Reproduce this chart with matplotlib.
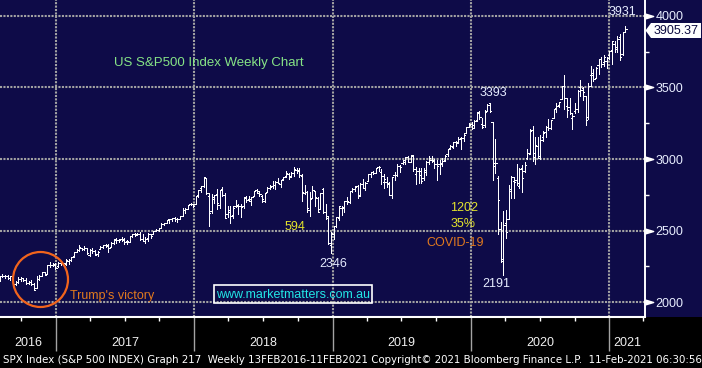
import numpy as np
import pandas as pd
import matplotlib
matplotlib.use('Agg')
import matplotlib.pyplot as plt
import matplotlib.dates as mdates
from matplotlib.patches import Ellipse, Polygon, Rectangle
from matplotlib.transforms import blended_transform_factory, ScaledTranslation

# weekly SPX bars, week ending Friday, first week ending 2016-08-05
first_week = '2016-08-05'

opens = [
    # 2016
    2173, 2183, 2184, 2183, 2170, 2180, 2125, 2140, 2163, 2168, 2154, 2132, 2142, 2129, 2100, 2165,
    2186, 2210, 2200, 2258, 2258, 2263,
    # 2017
    2251, 2274, 2272, 2268, 2291, 2295, 2321, 2354, 2366, 2381, 2372, 2379, 2329, 2363, 2357, 2335,
    2374, 2388, 2397, 2403, 2387, 2415, 2437, 2432, 2442, 2443, 2431, 2424, 2460, 2473, 2475, 2477,
    2443, 2425, 2447, 2474, 2473, 2500, 2503, 2521, 2548, 2555, 2578, 2583, 2588, 2580, 2583, 2603,
    2646, 2653, 2685, 2683,
    # 2018
    2684, 2746, 2798, 2809, 2867, 2741, 2636, 2723, 2757, 2681, 2791, 2752, 2619, 2633, 2611, 2670,
    2680, 2670, 2675, 2735, 2718, 2705, 2742, 2781, 2766, 2742, 2705, 2769, 2796, 2810, 2820, 2840,
    2822, 2858, 2884, 2897, 2881, 2903, 2926, 2923, 2882, 2764, 2773, 2641, 2727, 2775, 2731, 2650,
    2790, 2630, 2590, 2401,
    # 2019
    2476, 2531, 2586, 2657, 2659, 2709, 2703, 2778, 2792, 2812, 2750, 2823, 2796, 2849, 2893, 2909,
    2905, 2941, 2909, 2840, 2841, 2830, 2751, 2886, 2887, 2951, 2971, 2980, 3015, 2979, 3020, 2898,
    2914, 2913, 2866, 2909, 2980, 2996, 2984, 2968, 2962, 2965, 2996, 3034, 3079, 3087, 3118, 3118,
    3144, 3146, 3183, 3225,
    # 2020
    3247, 3218, 3273, 3323, 3247, 3236, 3335, 3389, 3258, 2974, 2864, 2509, 2290, 2555, 2578, 2776,
    2846, 2854, 2815, 2939, 2914, 3004, 3038, 3199, 3014, 3094, 3018, 3155, 3190, 3224, 3219, 3288,
    3357, 3380, 3419, 3508, 3370, 3363, 3285, 3338, 3350, 3500, 3494, 3441, 3296, 3584, 3600, 3566,
    3654, 3699, 3675, 3684, 3723,
    # 2021
    3764, 3803, 3781, 3855, 3731, 3886,
]
highs = [
    2183, 2194, 2189, 2193, 2185, 2188, 2150, 2175, 2176, 2170, 2169, 2147, 2154, 2132, 2182, 2189,
    2214, 2214, 2260, 2278, 2274, 2273,
    2283, 2279, 2276, 2301, 2300, 2319, 2352, 2369, 2401, 2382, 2390, 2382, 2370, 2379, 2366, 2361,
    2392, 2400, 2404, 2406, 2418, 2441, 2446, 2443, 2454, 2451, 2435, 2463, 2477, 2484, 2480, 2491,
    2475, 2454, 2480, 2474, 2500, 2509, 2520, 2553, 2556, 2576, 2582, 2589, 2598, 2588, 2605, 2658,
    2655, 2679, 2695, 2685,
    2744, 2787, 2811, 2873, 2870, 2764, 2755, 2748, 2790, 2787, 2802, 2762, 2675, 2672, 2675, 2717,
    2683, 2683, 2733, 2743, 2743, 2737, 2779, 2791, 2774, 2748, 2764, 2804, 2816, 2848, 2848, 2864,
    2855, 2877, 2916, 2900, 2906, 2941, 2940, 2940, 2894, 2817, 2779, 2767, 2815, 2775, 2735, 2761,
    2800, 2685, 2601, 2488,
    2532, 2598, 2675, 2672, 2709, 2738, 2776, 2795, 2814, 2817, 2830, 2860, 2836, 2894, 2910, 2916,
    2940, 2954, 2932, 2892, 2876, 2841, 2876, 2911, 2964, 2959, 2996, 3014, 3018, 3028, 3028, 2944,
    2940, 2939, 2940, 2985, 3021, 3022, 3002, 2993, 2993, 3008, 3027, 3067, 3098, 3121, 3127, 3155,
    3151, 3183, 3226, 3248,
    3258, 3275, 3330, 3338, 3285, 3342, 3385, 3394, 3260, 3137, 2882, 2563, 2637, 2641, 2818, 2880,
    2871, 2965, 2935, 2955, 2980, 3069, 3211, 3233, 3155, 3156, 3166, 3198, 3233, 3280, 3272, 3352,
    3388, 3399, 3509, 3588, 3425, 3429, 3320, 3394, 3482, 3550, 3503, 3441, 3529, 3646, 3628, 3644,
    3700, 3712, 3726, 3711, 3756,
    3827, 3823, 3860, 3871, 3887, 3931,
]
lows = [
    2148, 2178, 2168, 2160, 2158, 2128, 2120, 2133, 2145, 2145, 2128, 2125, 2122, 2084, 2100, 2156,
    2186, 2187, 2199, 2248, 2253, 2233,
    2245, 2258, 2259, 2262, 2267, 2289, 2319, 2353, 2358, 2364, 2363, 2337, 2322, 2344, 2328, 2323,
    2372, 2378, 2388, 2353, 2385, 2405, 2415, 2419, 2430, 2406, 2408, 2420, 2456, 2459, 2467, 2437,
    2425, 2417, 2428, 2446, 2473, 2496, 2495, 2521, 2542, 2551, 2552, 2566, 2567, 2558, 2578, 2602,
    2624, 2649, 2677, 2667,
    2683, 2738, 2768, 2808, 2758, 2533, 2626, 2695, 2648, 2658, 2742, 2586, 2594, 2553, 2586, 2665,
    2613, 2594, 2655, 2702, 2708, 2676, 2742, 2765, 2744, 2698, 2698, 2767, 2790, 2800, 2792, 2832,
    2803, 2853, 2877, 2863, 2874, 2882, 2904, 2874, 2710, 2756, 2628, 2604, 2727, 2671, 2631, 2649,
    2621, 2584, 2409, 2347,
    2443, 2525, 2571, 2612, 2630, 2687, 2690, 2770, 2775, 2728, 2740, 2799, 2786, 2849, 2873, 2898,
    2901, 2918, 2826, 2801, 2805, 2750, 2728, 2855, 2884, 2912, 2964, 2966, 2976, 2977, 2914, 2823,
    2834, 2835, 2853, 2891, 2964, 2979, 2939, 2856, 2892, 2952, 2988, 3024, 3070, 3078, 3091, 3113,
    3070, 3124, 3183, 3222,
    3212, 3215, 3263, 3279, 3214, 3223, 3333, 3328, 2855, 2901, 2478, 2281, 2192, 2447, 2578, 2729,
    2728, 2817, 2798, 2767, 2909, 2999, 3038, 2984, 2966, 3004, 3000, 3128, 3153, 3201, 3210, 3284,
    3329, 3361, 3419, 3350, 3293, 3313, 3209, 3324, 3330, 3440, 3409, 3234, 3279, 3511, 3542, 3566,
    3594, 3640, 3648, 3636, 3697,
    3663, 3750, 3749, 3694, 3725, 3884,
]
closes = [
    2183, 2184, 2184, 2169, 2180, 2128, 2139, 2165, 2168, 2154, 2133, 2141, 2126, 2085, 2164, 2182,
    2213, 2192, 2260, 2258, 2264, 2239,
    2277, 2275, 2271, 2295, 2297, 2316, 2351, 2367, 2383, 2373, 2378, 2344, 2363, 2356, 2329, 2349,
    2384, 2399, 2391, 2382, 2416, 2439, 2432, 2433, 2438, 2423, 2425, 2459, 2473, 2472, 2477, 2441,
    2426, 2443, 2477, 2461, 2500, 2502, 2519, 2549, 2553, 2575, 2581, 2588, 2582, 2579, 2602, 2642,
    2652, 2676, 2683, 2674,
    2743, 2786, 2810, 2873, 2762, 2620, 2732, 2747, 2691, 2787, 2752, 2588, 2641, 2604, 2656, 2670,
    2670, 2663, 2728, 2713, 2721, 2735, 2779, 2780, 2755, 2718, 2760, 2801, 2802, 2819, 2840, 2833,
    2850, 2875, 2902, 2872, 2905, 2930, 2914, 2886, 2767, 2768, 2659, 2723, 2781, 2736, 2633, 2760,
    2633, 2600, 2417, 2486,
    2532, 2596, 2671, 2665, 2707, 2708, 2776, 2793, 2804, 2743, 2822, 2801, 2834, 2893, 2907, 2905,
    2940, 2946, 2881, 2860, 2826, 2752, 2873, 2887, 2950, 2942, 2990, 3014, 2977, 3026, 2932, 2919,
    2889, 2847, 2926, 2979, 3007, 2992, 2962, 2952, 2970, 2986, 3023, 3067, 3093, 3120, 3110, 3141,
    3146, 3169, 3221, 3240,
    3235, 3265, 3330, 3295, 3226, 3328, 3380, 3338, 2954, 2972, 2711, 2305, 2541, 2489, 2790, 2875,
    2837, 2831, 2930, 2864, 2955, 3044, 3194, 3041, 3098, 3009, 3130, 3185, 3225, 3216, 3271, 3351,
    3373, 3397, 3508, 3427, 3341, 3319, 3298, 3348, 3477, 3484, 3465, 3270, 3509, 3585, 3558, 3638,
    3699, 3663, 3709, 3703, 3756,
    3825, 3768, 3841, 3714, 3887, 3905,
]

last_price = '3905.37'
price_ticks = [2000, 2500, 3000, 3500, 4000]
minor_price_ticks = [2250, 2750, 3250, 3750]
years = [2016, 2017, 2018, 2019, 2020, 2021]
footer = ('SPX Index (S&P 500 INDEX) Graph 217  Weekly 13FEB2016-11FEB2021 '
          'Copyright\u00a9 2021 Bloomberg Finance L.P.  11-Feb-2021 06:30:56')

NAVY = '#0e0b48'
GRID = '#a3a3a3'
W, H = 702, 368

plt.rcParams['font.family'] = ['Liberation Sans', 'DejaVu Sans']


def fx(px):
    return px / W


def fy(py):
    return 1 - py / H


fig = plt.figure(figsize=(W / 100, H / 100), dpi=100, facecolor='black')
fig.add_artist(Rectangle((fx(645), fy(317)), 57 / W, 317 / H, transform=fig.transFigure,
                         facecolor=NAVY, edgecolor='none', zorder=-5))
ax = fig.add_axes([0, 51 / H, 645 / W, 317 / H])
ax.set_facecolor(NAVY)

weeks = pd.date_range(first_week, periods=len(closes), freq='W-FRI')
x = mdates.date2num(weeks)
o = np.array(opens)
hi = np.array(highs)
lo = np.array(lows)
c = np.array(closes)

# OHLC bars: high-low stem, open tick left, close tick right
bar_kw = dict(color='white', lw=0.72, zorder=3, antialiased=False)
ax.vlines(x, lo, hi, **bar_kw)
ax.hlines(o, x - 3.5, x, **bar_kw)
ax.hlines(c, x, x + 3.5, **bar_kw)

# axes, ticks and grid
for s in ['top', 'left']:
    ax.spines[s].set_visible(False)
ax.spines['bottom'].set_color('white')
ax.spines['bottom'].set_linewidth(1.5)
ax.spines['right'].set_color('white')
ax.spines['right'].set_linewidth(1.4)

year_starts = [mdates.date2num(pd.Timestamp(f'{y}-01-01')) for y in years[1:]]
ax.set_xticks(year_starts)
quarters = pd.date_range('2016-10-01', '2021-04-01', freq='QS')
ax.set_xticks(mdates.date2num(quarters), minor=True)
ax.tick_params(axis='x', which='major', length=24.5, width=1, color=GRID, labelbottom=False)
ax.tick_params(axis='x', which='minor', length=3, width=1, color='white', labelbottom=False)

ax.yaxis.tick_right()
ax.set_yticks(price_ticks)
ax.set_yticks(minor_price_ticks, minor=True)
ax.tick_params(axis='y', which='major', length=0, pad=7.5, labelsize=9, labelcolor='#e8eeff')
ax.tick_params(axis='y', which='minor', length=3, width=1, color='white')

ax.set_xlim(mdates.date2num(pd.Timestamp('2016-08-06')), mdates.date2num(pd.Timestamp('2021-04-05')))
ax.set_ylim(1897, 4110)

ax.grid(True, which='major', color=GRID, linestyle=(0, (1, 0.65)), linewidth=1.5, zorder=1)
ax.set_axisbelow(True)

# arrow heads in front of the price labels
tri = [(-1, -0.6), (1, 0), (-1, 0.6)]
tr = blended_transform_factory(ax.transAxes, ax.transData) + ScaledTranslation(4 / 100, 0, fig.dpi_scale_trans)
ax.plot([1.0] * len(price_ticks), price_ticks, ls='none', marker=tri, ms=6, color='white',
        transform=tr, clip_on=False, zorder=5)

# year labels centred on the visible part of each year
x0, x1 = ax.get_xlim()
ytr = blended_transform_factory(ax.transData, ax.transAxes)
for y in years:
    a = max(mdates.date2num(pd.Timestamp(f'{y}-01-01')), x0)
    b = min(mdates.date2num(pd.Timestamp(f'{y + 1}-01-01')), x1)
    ax.text((a + b) / 2, -26 / 317, str(y), transform=ytr, ha='center', va='center',
            fontsize=9, color='#f0f0f0', clip_on=False)

fig.text(fx(3), fy(360), footer, fontsize=7.35, color='white', family='DejaVu Sans',
         ha='left', va='center')

# annotations
fig.text(fx(209), fy(63), 'US S&P500 Index Weekly Chart', fontsize=9.5, color='#86e486',
         ha='center', va='center')
num_col = '#e6ecff'
fig.text(fx(493), fy(93), '3393', fontsize=9, color=num_col, ha='center', va='center')
fig.text(fx(622), fy(12), '3931', fontsize=9, color=num_col, ha='center', va='center')
fig.text(fx(333), fy(264), '2346', fontsize=9, color=num_col, ha='center', va='center')
fig.text(fx(496), fy(284), '2191', fontsize=9, color=num_col, ha='center', va='center')
fig.text(fx(295), fy(227), '594', fontsize=9, color='#e4e42c', ha='center', va='center')
fig.text(fx(464), fy(208), '1202', fontsize=9, color='#e4e42c', ha='center', va='center')
fig.text(fx(463), fy(224), '35%', fontsize=9, color='#e4e42c', ha='center', va='center')
fig.text(fx(455), fy(243), 'COVID-19', fontsize=9, color='#e27a1e', ha='center', va='center')
fig.text(fx(112), fy(296), "Trump's victory", fontsize=9, color='#e27a1e', ha='center', va='center')

ax.add_patch(Ellipse((40.5 / 645, 1 - 279.5 / 317), 55 / 645, 55 / 317, transform=ax.transAxes,
                     fill=False, ec='#f2641c', lw=1.6, clip_on=False, zorder=6))

fig.add_artist(Rectangle((fx(214), fy(303)), 158 / W, 18 / H, transform=fig.transFigure,
                         fill=False, ec='white', lw=1.2))
fig.text(fx(293), fy(294.5), 'www.marketmatters.com.au', fontsize=9, color='#22e6e6',
         ha='center', va='center')

# last price tag
tag = [(645.5, 30.5), (651, 23), (701, 23), (701, 38), (651, 38)]
fig.add_artist(Polygon([(fx(px), fy(py)) for px, py in tag], closed=True, transform=fig.transFigure,
                       facecolor='white', edgecolor='none', zorder=6))
fig.text(fx(676), fy(30.5), last_price, fontsize=9, color='#0c0a40', ha='center', va='center', zorder=7)

fig.savefig('out.png', dpi=100, facecolor='black')
